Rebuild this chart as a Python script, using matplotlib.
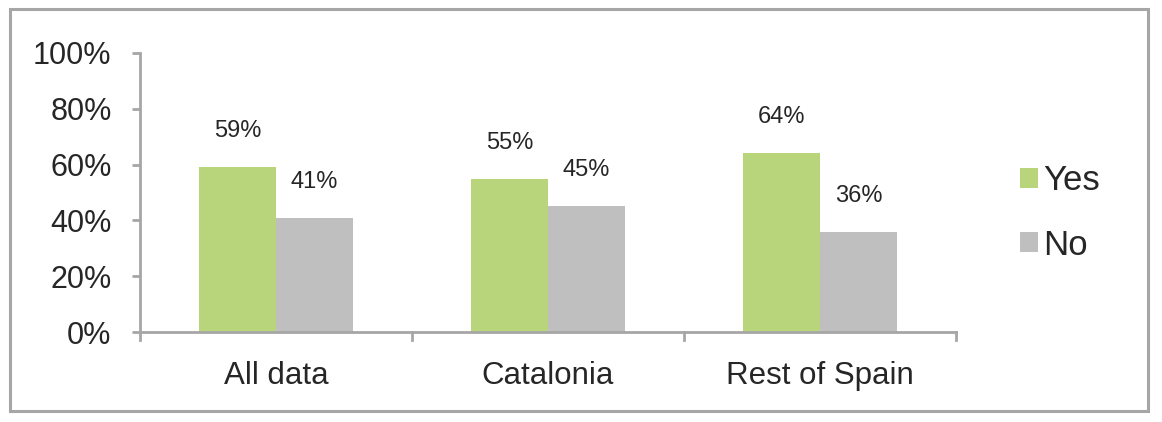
import matplotlib
matplotlib.use("Agg")
import matplotlib.pyplot as plt
from matplotlib.patches import Rectangle
import numpy as np

categories = ["All data", "Catalonia", "Rest of Spain"]
yes_values = [59, 55, 64]
no_values = [41, 45, 36]
series_names = ["Yes", "No"]
yticks = [0, 20, 40, 60, 80, 100]

GREEN = "#B9D57C"
GRAY = "#BFBFBF"
AXIS = "#A6A6A6"
TEXT = "#262626"

plt.rcParams["font.family"] = ["Liberation Sans", "DejaVu Sans"]

fig = plt.figure(figsize=(11.62, 4.22), dpi=100)
# outer border
fig.patches.append(Rectangle((10 / 1162, 1 - 411 / 422), (1148 - 10) / 1162, (411 - 9) / 422,
                             transform=fig.transFigure, fill=False,
                             edgecolor="#A6A6A6", linewidth=2.2))

ax = fig.add_axes([140 / 1162, 1 - 332 / 422, (956 - 140) / 1162, (332 - 53) / 422])
x = np.arange(len(categories))
w = 77 / 272
b1 = ax.bar(x - w / 2, yes_values, w, color=GREEN, label=series_names[0])
b2 = ax.bar(x + w / 2, no_values, w, color=GRAY, label=series_names[1])

for bars, vals in ((b1, yes_values), (b2, no_values)):
    for r, v in zip(bars, vals):
        ax.annotate(f"{v}%", (r.get_x() + r.get_width() / 2, v),
                    xytext=(0, 18), textcoords="offset points",
                    ha="center", va="bottom", fontsize=17, color=TEXT)

ax.set_xlim(-0.5, len(categories) - 0.5)
ax.set_ylim(0, 100)
ax.set_yticks(yticks)
ax.set_yticklabels([f"{t}%" for t in yticks], fontsize=22, color=TEXT)
ax.set_xticks(x)
ax.set_xticklabels(categories, fontsize=22.5, color=TEXT)
ax.tick_params(axis="x", length=0, pad=21)
ax.tick_params(axis="y", length=6, width=2, color=AXIS, pad=14.5)
# category separators ticks on x axis
for xb in np.arange(-0.5, len(categories), 1.0):
    ax.plot([xb, xb], [0, -0.03], transform=ax.get_xaxis_transform(),
            color=AXIS, lw=2, clip_on=False)

for s in ("top", "right"):
    ax.spines[s].set_visible(False)
for s in ("left", "bottom"):
    ax.spines[s].set_color(AXIS)
    ax.spines[s].set_linewidth(2)

leg = fig.legend(handles=[b1, b2], labels=series_names, loc="center left",
                 bbox_to_anchor=(1020 / 1162, 1 - 213 / 422), frameon=False,
                 fontsize=25, handlelength=0.52, handleheight=0.52,
                 handletextpad=0.15, labelspacing=0.9, borderpad=0,
                 borderaxespad=0)
for t in leg.get_texts():
    t.set_color(TEXT)

fig.savefig("out.png", dpi=100)
